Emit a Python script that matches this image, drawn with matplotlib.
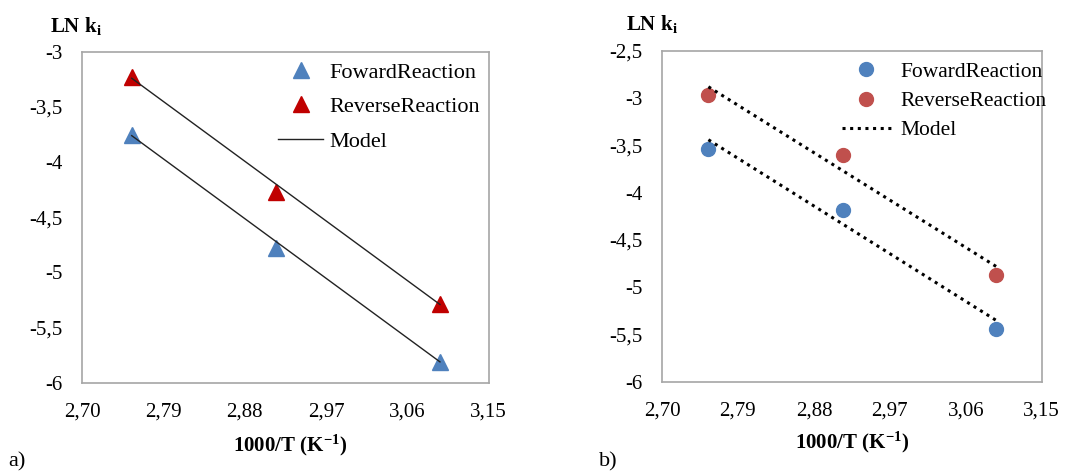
import numpy as np
import matplotlib

matplotlib.use('Agg')
import matplotlib.pyplot as plt

plt.rcParams['font.family'] = ['Liberation Serif', 'DejaVu Serif']
plt.rcParams['mathtext.fontset'] = 'custom'
plt.rcParams['mathtext.rm'] = 'Liberation Serif'
plt.rcParams['mathtext.bf'] = 'Liberation Serif:bold'
plt.rcParams['mathtext.it'] = 'Liberation Serif:italic'

# 1000/T for the three temperatures
inv_t = [2.755, 2.915, 3.096]
x_ticks = [2.70, 2.79, 2.88, 2.97, 3.06, 3.15]

# a) experimental and model
fwd_a = [-3.75, -4.78, -5.81]
rev_a = [-3.23, -4.27, -5.29]
model_fwd_a = [-3.76, -5.81]
model_rev_a = [-3.24, -5.29]
y_ticks_a = [-3, -3.5, -4, -4.5, -5, -5.5, -6]

# b) experimental and model
fwd_b = [-3.54, -4.18, -5.44]
rev_b = [-2.97, -3.60, -4.87]
model_fwd_b = [-3.44, -5.35]
model_rev_b = [-2.88, -4.78]
y_ticks_b = [-2.5, -3, -3.5, -4, -4.5, -5, -5.5, -6]

blue = '#4f81bd'
dark_red = '#c00000'
red = '#c0504d'


def fmt(v, nd):
    s = ('%.' + str(nd) + 'f') % v
    return s.replace('.', ',')


def tick_label(v):
    if float(v).is_integer():
        return '%d' % v
    return fmt(v, 1)


def style_axes(ax, yticks):
    ax.set_xlim(2.70, 3.15)
    ax.set_xticks(x_ticks)
    ax.set_xticklabels([fmt(v, 2) for v in x_ticks])
    ax.set_ylim(yticks[-1], yticks[0])
    ax.set_yticks(yticks)
    ax.set_yticklabels([tick_label(v) for v in yticks])
    ax.tick_params(length=0, labelsize=15, pad=14)
    for s in ax.spines.values():
        s.set_color('#a6a6a6')
        s.set_linewidth(1.2)


fig = plt.figure(figsize=(10.79, 4.75), dpi=100)

ax1 = fig.add_axes([0.076, 0.194, 0.377, 0.697])
ends = [inv_t[0], inv_t[-1]]
ax1.plot(ends, model_rev_a, color='#222222', lw=1.0, zorder=3)
ax1.plot(ends, model_fwd_a, color='#222222', lw=1.0, zorder=3)
h1, = ax1.plot(inv_t, fwd_a, '^', color=blue, ms=11, ls='none', zorder=2)
h2, = ax1.plot(inv_t, rev_a, '^', color=dark_red, ms=11, ls='none', zorder=2)
hm, = ax1.plot([], [], color='#222222', lw=1.0)
style_axes(ax1, y_ticks_a)
ax1.legend([h1, h2, hm], ['FowardReaction', 'ReverseReaction', 'Model'],
           loc='upper right', bbox_to_anchor=(1.017, 1.015), frameon=False,
           fontsize=16, handlelength=2.0, handletextpad=0.3,
           labelspacing=0.62, borderaxespad=0.3)

ax2 = fig.add_axes([0.6135, 0.196, 0.352, 0.697])
ax2.plot(ends, model_rev_b, color='black', lw=2.2, ls=(0, (1, 1.5)), zorder=3)
ax2.plot(ends, model_fwd_b, color='black', lw=2.2, ls=(0, (1, 1.5)), zorder=3)
g1, = ax2.plot(inv_t, fwd_b, 'o', color=blue, ms=10, ls='none', zorder=2)
g2, = ax2.plot(inv_t, rev_b, 'o', color=red, ms=10, ls='none', zorder=2)
gm, = ax2.plot([], [], color='black', lw=2.2, ls=(0, (1, 1.5)))
style_axes(ax2, y_ticks_b)
ax2.legend([g1, g2, gm], ['FowardReaction', 'ReverseReaction', 'Model'],
           loc='upper right', bbox_to_anchor=(1.053, 1.012), frameon=False,
           fontsize=15.5, handlelength=2.3, handletextpad=0.45,
           labelspacing=0.42, borderaxespad=0.3)

fig.text(0.046, 0.945, r'LN k$_\mathbf{i}$', fontsize=15, fontweight='bold',
         ha='left', va='center')
fig.text(0.58, 0.95, r'LN k$_\mathbf{i}$', fontsize=15, fontweight='bold',
         ha='left', va='center')
fig.text(0.269, 0.062, r'1000/T (K$^\mathbf{-1}$)', fontsize=15,
         fontweight='bold', ha='center', va='center')
fig.text(0.79, 0.068, r'1000/T (K$^\mathbf{-1}$)', fontsize=15,
         fontweight='bold', ha='center', va='center')
fig.text(0.008, 0.028, 'a)', fontsize=16, ha='left', va='center')
fig.text(0.555, 0.028, 'b)', fontsize=16, ha='left', va='center')

fig.savefig('out.png', dpi=100)
